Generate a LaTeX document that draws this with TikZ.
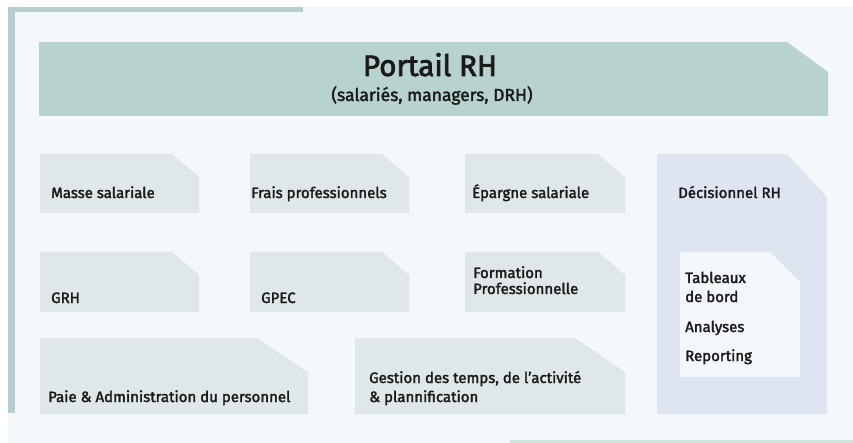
\documentclass[tikz,border=0pt]{standalone}
\usepackage{fontspec}
\setmainfont{Fira Sans}[FakeBold=2]
\newfontfamily\heavyfont{Fira Sans}[FakeBold=2.6]
\definecolor{panelbg}{HTML}{F4F8FA}
\definecolor{stripe}{HTML}{B7CFCC}
\definecolor{banner}{HTML}{B8D3CF}
\definecolor{boxgray}{HTML}{DFE7E9}
\definecolor{decis}{HTML}{DEE4F0}
\definecolor{inner}{HTML}{F3F6FA}
\definecolor{bline}{HTML}{CDE3DD}
\definecolor{txt}{HTML}{1A1A1A}
\newcommand\chbox[7]{\fill[#1] (#2,#3) -- ({#4-#6},#3) -- (#4,{#3+#7}) -- (#4,#5) -- (#2,#5) -- cycle;}
\tikzset{
  lbl/.style={anchor=base west, inner sep=0pt, font=\fontsize{15}{17}\selectfont, text=txt},
  ttl/.style={anchor=base, inner sep=0pt, font=\heavyfont\fontsize{29.5}{32}\selectfont, text=txt},
  sub/.style={anchor=base, inner sep=0pt, font=\fontsize{17.5}{19}\selectfont, text=txt}
}
\begin{document}
\begin{tikzpicture}[x=1pt,y=-1pt]
\useasboundingbox (0,0) rectangle (853,443);
\fill[white] (0,0) rectangle (853,443);
% panel
\fill[panelbg] (8,7) rectangle (853,443);
\fill[stripe] (8,7) rectangle (303,12);
\fill[stripe] (8,7) rectangle (15,413);
\fill[bline] (510,440) rectangle (853,443);
% banner
\chbox{banner}{39}{42}{828}{116}{41}{30}
\node[ttl] (portail) at (430,76) {Portail RH};
\node[sub] (portailsub) at (432,101) {(salariés, managers, DRH)};
% row 1
\chbox{boxgray}{40}{154}{199}{213}{27}{23}
\chbox{boxgray}{250}{154}{409}{213}{27}{23}
\chbox{boxgray}{465}{154}{625}{213}{27}{23}
\node[lbl] (masse) at (51,198) {Masse salariale};
\node[lbl] (frais) at (251,198) {Frais professionnels};
\node[lbl] (epargne) at (472,198) {Épargne salariale};
% decisionnel
\chbox{decis}{657}{154}{827}{414}{40}{43}
\chbox{inner}{680}{252}{800}{377}{30}{30}
\node[lbl] (decisionnel) at (678,198) {Décisionnel RH};
\node[lbl] (tableaux) at (685,283) {Tableaux};
\node[lbl] (debord) at (685,302) {de bord};
\node[lbl] (analyses) at (685,332) {Analyses};
\node[lbl] (reporting) at (685,361) {Reporting};
% row 2
\chbox{boxgray}{40}{252}{199}{312}{27}{23}
\chbox{boxgray}{250}{252}{409}{312}{27}{23}
\chbox{boxgray}{465}{252}{625}{312}{27}{23}
\node[lbl] (grh) at (51,303) {GRH};
\node[lbl] (gpec) at (261,303) {GPEC};
\node[lbl] (formation) at (473,278) {Formation};
\node[lbl] (profession) at (473,294) {Professionnelle};
% row 3
\chbox{boxgray}{40}{338}{308}{414}{51}{34}
\chbox{boxgray}{355}{338}{625}{414}{50}{34}
\node[lbl] (paie) at (48,402) {Paie \& Administration du personnel};
\node[lbl] (gestion1) at (369,383) {Gestion des temps, de l’activité};
\node[lbl] (gestion2) at (369,402) {\& plannification};
\end{tikzpicture}
\end{document}
